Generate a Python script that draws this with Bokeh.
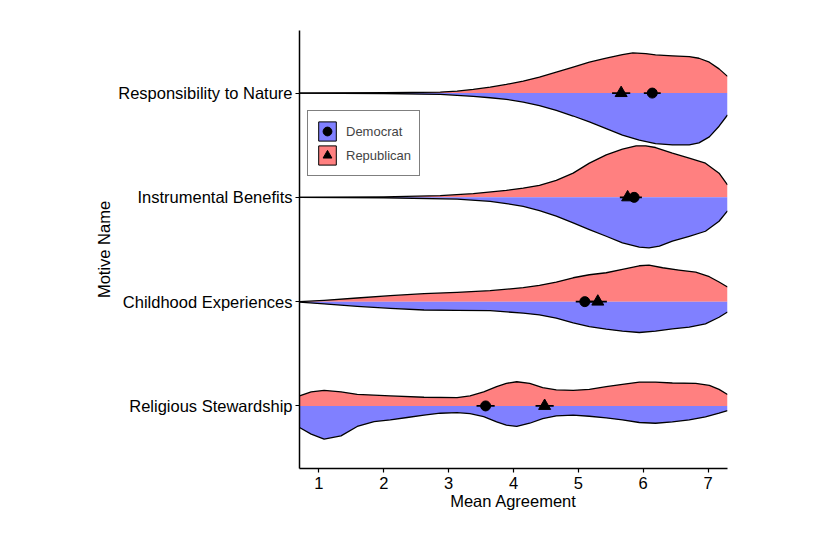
from bokeh.plotting import figure
from bokeh.models import Range1d, FixedTicker, Legend, LegendItem, BoxAnnotation
from bokeh.embed import file_html
from bokeh.resources import INLINE

# ---- data -------------------------------------------------------------
motives = ["Religious Stewardship", "Childhood Experiences",
           "Instrumental Benefits", "Responsibility to Nature"]
positions = [1, 2, 3, 4]
x_ticks = [1, 2, 3, 4, 5, 6, 7]

# violin half-widths (density profile), Republican (upper half) / Democrat (lower half)
relig_rep_x = [0.7, 0.88, 1.08, 1.34, 1.59, 2.10, 2.62, 3.13, 3.33, 3.54, 3.74, 3.89, 4.05, 4.25, 4.45,
               4.66, 4.92, 5.17, 5.43, 5.68, 5.94, 6.19, 6.45, 6.81, 7.02, 7.17, 7.3]
relig_rep_w = [0.096, 0.134, 0.15, 0.134, 0.111, 0.096, 0.083, 0.08, 0.096, 0.134, 0.185, 0.217, 0.232, 0.217, 0.175,
               0.153, 0.15, 0.159, 0.185, 0.207, 0.229, 0.229, 0.22, 0.217, 0.197, 0.159, 0.11]
relig_dem_x = [0.7, 0.88, 1.08, 1.34, 1.59, 1.85, 2.10, 2.36, 2.62, 2.87, 3.13, 3.33, 3.54, 3.74, 3.89, 4.05,
               4.25, 4.45, 4.66, 4.92, 5.17, 5.43, 5.68, 5.94, 6.19, 6.45, 6.71, 6.96, 7.17, 7.3]
relig_dem_w = [0.207, 0.27, 0.318, 0.287, 0.197, 0.15, 0.134, 0.111, 0.089, 0.07, 0.064, 0.073, 0.102, 0.153, 0.185, 0.197,
               0.166, 0.121, 0.096, 0.089, 0.099, 0.115, 0.134, 0.159, 0.166, 0.153, 0.134, 0.105, 0.07, 0.045]

child_rep_x = [0.7, 1.08, 1.59, 2.10, 2.62, 3.13, 3.64, 4.15, 4.40, 4.66, 4.92, 5.17, 5.43, 5.68, 5.94,
               6.09, 6.30, 6.55, 6.81, 7.02, 7.17, 7.3]
child_rep_w = [0.0, 0.013, 0.035, 0.057, 0.076, 0.089, 0.105, 0.134, 0.156, 0.188, 0.229, 0.258, 0.277, 0.309, 0.344,
               0.35, 0.325, 0.303, 0.283, 0.239, 0.188, 0.14]
child_dem_x = [0.7, 1.08, 1.59, 2.10, 2.62, 3.13, 3.64, 4.15, 4.40, 4.66, 4.92, 5.17, 5.43, 5.68, 5.94,
               6.19, 6.45, 6.71, 6.96, 7.17, 7.3]
child_dem_w = [0.004, 0.022, 0.045, 0.064, 0.08, 0.083, 0.086, 0.111, 0.127, 0.159, 0.204, 0.239, 0.264, 0.283, 0.296,
               0.283, 0.261, 0.245, 0.213, 0.15, 0.10]

instr_rep_x = [0.7, 2.0, 2.87, 3.38, 3.89, 4.15, 4.40, 4.66, 4.92, 5.17, 5.43, 5.68, 5.89, 6.04, 6.19,
               6.45, 6.71, 6.96, 7.17, 7.3]
instr_rep_w = [0.0, 0.004, 0.016, 0.035, 0.067, 0.089, 0.115, 0.162, 0.232, 0.328, 0.408, 0.462, 0.494, 0.494, 0.478,
               0.424, 0.376, 0.328, 0.232, 0.12]
instr_dem_x = [0.7, 2.0, 3.13, 3.64, 3.89, 4.15, 4.40, 4.66, 4.92, 5.17, 5.43, 5.68, 5.94, 6.09, 6.25,
               6.45, 6.71, 6.96, 7.17, 7.3]
instr_dem_w = [0.0, 0.004, 0.016, 0.038, 0.06, 0.086, 0.127, 0.18, 0.245, 0.309, 0.373, 0.436, 0.478, 0.484, 0.468,
               0.42, 0.373, 0.325, 0.229, 0.13]

resp_rep_x = [0.7, 2.0, 2.87, 3.13, 3.38, 3.64, 3.89, 4.15, 4.40, 4.66, 4.92, 5.17, 5.43, 5.68, 5.84,
              6.04, 6.19, 6.45, 6.71, 6.86, 7.02, 7.17, 7.3]
resp_rep_w = [0.0, 0.003, 0.01, 0.019, 0.035, 0.057, 0.083, 0.115, 0.153, 0.20, 0.248, 0.296, 0.334, 0.369, 0.385,
              0.379, 0.366, 0.357, 0.35, 0.334, 0.296, 0.232, 0.16]
resp_dem_x = [0.7, 2.0, 2.87, 3.13, 3.38, 3.64, 3.89, 4.15, 4.40, 4.66, 4.92, 5.17, 5.43, 5.68, 5.94,
              6.19, 6.45, 6.71, 6.86, 7.02, 7.17, 7.3]
resp_dem_w = [0.0, 0.004, 0.013, 0.022, 0.032, 0.045, 0.06, 0.086, 0.121, 0.166, 0.22, 0.277, 0.34, 0.404, 0.452,
              0.484, 0.497, 0.497, 0.478, 0.42, 0.318, 0.21]

# means and error half-widths, order = positions (1..4)
dem_mean = [3.57, 5.10, 5.86, 6.14]
rep_mean = [4.48, 5.30, 5.76, 5.66]
dem_err = [0.14, 0.14, 0.12, 0.13]
rep_err = [0.14, 0.14, 0.12, 0.14]

REP_COLOR = "#FF8080"
DEM_COLOR = "#8080FF"
FONT = "Liberation Sans"

# ---- figure -------------------------------------------------------------
p = figure(width=808, height=528, x_range=Range1d(0.7, 7.3), y_range=Range1d(0.4, 4.6),
           output_backend="svg", toolbar_location=None,
           min_border_left=299, min_border_right=81, min_border_top=30, min_border_bottom=60)
p.outline_line_color = None
p.xgrid.visible = False
p.ygrid.visible = False
p.background_fill_color = "white"

violins = [
    (1, relig_rep_x, relig_rep_w, relig_dem_x, relig_dem_w),
    (2, child_rep_x, child_rep_w, child_dem_x, child_dem_w),
    (3, instr_rep_x, instr_rep_w, instr_dem_x, instr_dem_w),
    (4, resp_rep_x, resp_rep_w, resp_dem_x, resp_dem_w),
]
for base, rx, rw, dx, dw in violins:
    top = [base + w for w in rw]
    bot = [base - w for w in dw]
    p.patch(x=rx + rx[::-1], y=top + [base] * len(rx), fill_color=REP_COLOR, line_color=None)
    p.patch(x=dx + dx[::-1], y=[base] * len(dx) + bot[::-1], fill_color=DEM_COLOR, line_color=None)
    p.line(x=rx, y=top, line_color="black", line_width=1.3, line_join="round")
    p.line(x=dx, y=bot, line_color="black", line_width=1.3, line_join="round")

# error bars + means
p.segment(x0=[m - e for m, e in zip(dem_mean, dem_err)], x1=[m + e for m, e in zip(dem_mean, dem_err)],
          y0=positions, y1=positions, line_color="black", line_width=1.7)
p.segment(x0=[m - e for m, e in zip(rep_mean, rep_err)], x1=[m + e for m, e in zip(rep_mean, rep_err)],
          y0=positions, y1=positions, line_color="black", line_width=1.7)
dem_pts = p.scatter(x=dem_mean, y=positions, marker="circle", size=10, fill_color="black", line_color="black")
rep_pts = p.scatter(x=rep_mean, y=positions, marker="triangle", size=12, fill_color="black", line_color="black")

# legend key boxes (drawn outside the visible range; only their legend swatch shows)
dem_key = p.quad(left=[-10], right=[-9], bottom=[-10], top=[-9],
                 fill_color=DEM_COLOR, line_color="black", line_width=1)
rep_key = p.quad(left=[-10], right=[-9], bottom=[-10], top=[-9],
                 fill_color=REP_COLOR, line_color="black", line_width=1)

legend = Legend(items=[LegendItem(label="Democrat", renderers=[dem_key, dem_pts]),
                       LegendItem(label="Republican", renderers=[rep_key, rep_pts])],
                location=(8, 292), glyph_width=22, glyph_height=24, spacing=0, padding=8,
                label_standoff=8, label_text_font=FONT, label_text_font_size="13px",
                label_height=20, border_line_color="black", border_line_width=1.2,
                margin=0, background_fill_color="white", background_fill_alpha=1)
p.add_layout(legend)

# thin image frame along the top and left edges
p.add_layout(BoxAnnotation(left=4.5, right=2000, top=3.5, bottom=2000,
                           left_units="canvas", right_units="canvas",
                           top_units="canvas", bottom_units="canvas",
                           fill_alpha=0, line_color="#333333", line_width=1.5,
                           level="overlay", editable=False))

# axes
for ax in (p.xaxis[0], p.yaxis[0]):
    ax.axis_line_color = "black"
    ax.axis_line_width = 1.5
    ax.major_tick_line_color = "black"
    ax.major_tick_line_width = 1.2
    ax.major_tick_out = 4
    ax.major_tick_in = 0
    ax.minor_tick_line_color = None
    ax.major_label_text_font = FONT
    ax.major_label_text_font_size = "16.5px"
    ax.major_label_text_color = "black"
    ax.axis_label_text_font = FONT
    ax.axis_label_text_font_size = "16.5px"
    ax.axis_label_text_font_style = "normal"
    ax.axis_label_text_color = "black"

p.xaxis.ticker = FixedTicker(ticks=x_ticks)
p.xaxis.axis_label = "Mean Agreement"
p.xaxis.major_label_standoff = 4
p.xaxis.axis_label_standoff = 0

p.yaxis.ticker = FixedTicker(ticks=positions)
p.yaxis.major_label_overrides = {pos: name for pos, name in zip(positions, motives)}
p.yaxis.axis_label = "Motive Name"
p.yaxis.major_label_standoff = 3
p.yaxis.axis_label_standoff = 2

open("out.html", "w").write(file_html(p, INLINE))
